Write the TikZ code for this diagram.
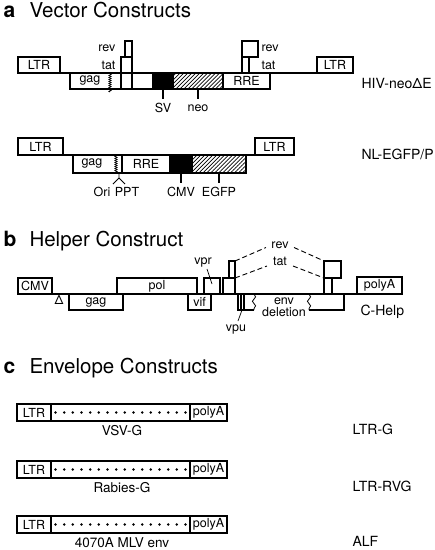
\documentclass[tikz,border=0pt]{standalone}
\usepackage{fontspec}
\setmainfont{TeX Gyre Heros}
\usetikzlibrary{patterns.meta,decorations.pathmorphing}
\begin{document}
\begin{tikzpicture}[x=1pt,y=-1pt,line width=1.1pt,
  gbox/.style={draw,rectangle,inner sep=0pt,outer sep=0pt,anchor=north west,font=\fontsize{12.5}{13}\selectfont},
  hatch/.style={pattern={Lines[angle=45,distance=2.8pt,line width=0.7pt]}},
  lbl/.style={inner sep=0pt,font=\fontsize{12.5}{13}\selectfont},
  clbl/.style={inner sep=0pt,font=\fontsize{13.5}{14}\selectfont},
  cname/.style={inner sep=0pt,anchor=west,font=\fontsize{14}{15}\selectfont},
  ttl/.style={inner sep=0pt,anchor=base west,font=\fontsize{20.5}{21}\selectfont},
  tletter/.style={inner sep=0pt,anchor=base west,font=\bfseries\fontsize{21}{21}\selectfont},
  squig/.style={line width=0.6pt,decorate,decoration={zigzag,amplitude=1.2pt,segment length=2pt}},
  dashline/.style={dashed,line width=0.9pt,dash pattern=on 5pt off 3pt}]
\useasboundingbox (0,0) rectangle (435,550);
\newcommand{\gb}[7][]{\node[gbox,minimum width={(#5)-(#3)},minimum height={(#6)-(#4)},#1] (#2) at (#3,#4) {#7};}

% ---------- a ----------
\node[tletter] (ta) at (3,17) {a};
\node[ttl] (tta) at (29,17) {Vector Constructs};

% HIV-neoDeltaE
\gb{ltrA1}{18}{57}{60}{73}{LTR}
\gb{ltrA2}{317}{57}{353}{73}{LTR}
\draw (ltrA1.south east) -- (ltrA2.south west);
\gb{gagA}{70}{73}{121}{89}{}
\node[lbl] (gagAt) at (90,80.5) {gag};
\coordinate (sqA1) at (110,74);
\coordinate (sqA2) at (110,92);
\draw[squig] (sqA1) -- (sqA2);
\gb{tatA1}{121}{57}{132}{89}{}
\gb{revA1}{125}{41}{132}{57}{}
\gb{wA}{132}{73}{153}{89}{}
\gb[fill=black]{svA}{153}{73}{173}{89}{}
\gb[hatch]{neoA}{173}{73}{223}{89}{}
\gb{rreA}{223}{73}{270}{89}{RRE}
\gb{tatA2}{242}{57}{249}{73}{}
\gb{revA2}{242}{41}{258}{57}{}
\node[lbl,anchor=east] (revAl) at (116,48) {rev};
\node[lbl,anchor=east] (tatAl) at (116,65) {tat};
\node[lbl,anchor=west] (revAr) at (261,48) {rev};
\node[lbl,anchor=west] (tatAr) at (261,65) {tat};
\node[lbl] (svL) at (163,108) {SV};
\node[lbl] (neoL) at (198,108) {neo};
\draw (svA.south) -- ++(0,10);
\draw (neoA.south) -- ++(0,10);
\node[cname] (hiv) at (361,83) {HIV-neoΔE};

% NL-EGFP/P
\gb{ltrB1}{18}{138}{63}{155}{LTR}
\gb{ltrB2}{255}{138}{294}{155}{LTR}
\draw (ltrB1.south east) -- (ltrB2.south west);
\gb{gagB}{73}{155}{122}{173}{}
\node[lbl] (gagBt) at (92,163) {gag};
\coordinate (sqB1) at (116,155);
\coordinate (sqB2) at (116,173);
\draw[squig] (sqB1) -- (sqB2);
\gb{rreB}{122}{155}{170}{173}{RRE}
\gb[fill=black]{cmvB}{170}{155}{192}{173}{}
\gb[hatch]{egfpB}{192}{155}{246}{173}{}
\node[lbl] (oriL) at (102,192) {Ori};
\node[lbl] (pptL) at (127,192) {PPT};
\node[lbl] (cmvL) at (181,192) {CMV};
\node[lbl] (egfpL) at (219,192) {EGFP};
\coordinate (forkT) at (119,173);
\coordinate (fork) at (119,178);
\draw[line width=0.8pt] (forkT) -- (fork) -- (113,184);
\draw[line width=0.8pt] (fork) -- (125,184);
\draw (cmvB.south) -- ++(0,10);
\draw (egfpB.south) -- ++(0,10);
\node[cname] (nl) at (361,154) {NL-EGFP/P};

% ---------- b ----------
\node[tletter] (tb) at (3,246) {b};
\node[ttl] (ttb) at (29,246) {Helper Construct};

\gb{cmvH}{18}{278}{52}{294}{CMV}
\gb{polyH}{357}{277}{402}{294}{polyA}
\draw (cmvH.south east) -- (polyH.south west);
\node[lbl] (delta) at (59,300) {Δ};
\gb{gagH}{69}{294}{123}{310}{gag}
\gb{polH}{117}{278}{197}{294}{pol}
\gb{vifH}{188}{294}{211}{310}{vif}
\gb{vprH}{204}{278}{220}{294}{}
\node[lbl] (vprL) at (203,262) {vpr};
\coordinate (vprP) at (212,284);
\draw[line width=0.7pt] (207,269) -- (vprP);
\gb{tatH1}{223}{278}{235}{294}{}
\gb{revH1}{229}{261}{235}{278}{}
\gb{vpuH1}{238}{294}{241}{310}{}
\gb{vpuH2}{241}{294}{244}{310}{}
\node[lbl] (vpuL) at (236,329) {vpu};
\draw[line width=0.7pt] (242,310) -- (238,321);
% env with deletion
\coordinate (envA) at (244,310);
\coordinate (envB) at (254,310);
\draw (envA) -- (envB);
\draw[line width=0.8pt,decorate,decoration={snake,amplitude=1.6pt,segment length=9pt}] (254,294) -- (254,310);
\coordinate (envC) at (309,310);
\coordinate (envD) at (344,310);
\draw[line width=0.8pt,decorate,decoration={snake,amplitude=1.6pt,segment length=9pt}] (309,294) -- (envC);
\draw (envC) -- (envD) -- (344,294);
\node[lbl] (envL) at (284,301) {env};
\node[lbl] (delL) at (284,312.5) {deletion};
\gb{revH2}{324}{261}{341}{278}{}
\gb{tatH2}{324}{278}{332}{294}{}
\node[lbl] (revHL) at (280,245) {rev};
\node[lbl] (tatHL) at (280,261) {tat};
\coordinate (rv1) at (266,247.5);
\coordinate (rv2) at (294,247.5);
\coordinate (tt1) at (267,266);
\coordinate (tt2) at (293,266);
\draw[dashline] (revH1.north east) -- (rv1);
\draw[dashline] (rv2) -- (revH2.north west);
\draw[dashline] (tatH1.north east) -- (tt1);
\draw[dashline] (tt2) -- (tatH2.north west);
\node[cname] (chelp) at (360,312) {C-Help};

% ---------- c ----------
\node[tletter] (tc) at (3,373) {c};
\node[ttl] (ttc) at (29,373) {Envelope Constructs};

\foreach \n/\y/\lab/\nm in {1/404/VSV-G/LTR-G, 2/461/Rabies-G/LTR-RVG, 3/516/4070A MLV env/ALF}{
  \gb{ltrC\n}{17}{\y}{51}{\y+17}{LTR}
  \gb{midC\n}{51}{\y}{190}{\y+17}{}
  \gb{polyC\n}{190}{\y}{227}{\y+17}{polyA}
  \foreach \i in {0,...,15}{
    \fill ({55.5+\i*8.667},{\y+8.5}) circle (1.4pt);
  }
  \node[clbl] (envC\n) at (122,{\y+27}) {\lab};
  \node[cname] (nmC\n) at (352,{\y+25}) {\nm};
}
\end{tikzpicture}
\end{document}
